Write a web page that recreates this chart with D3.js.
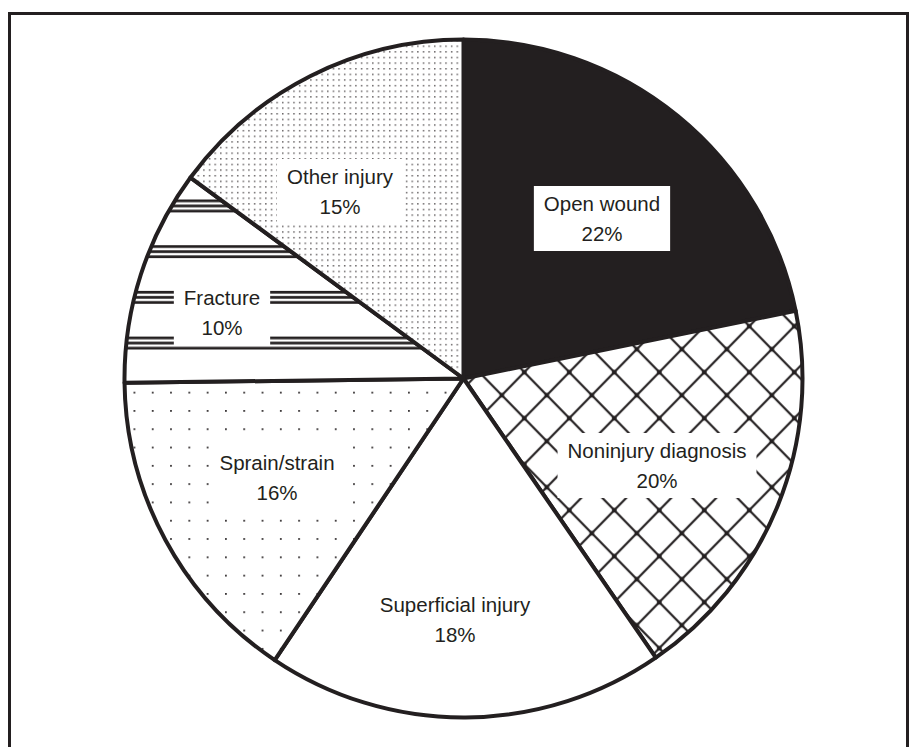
<!DOCTYPE html>
<html>
<head>
<meta charset="utf-8">
<script src="https://cdn.jsdelivr.net/npm/d3@7"></script>
<style>
  html, body { margin: 0; padding: 0; background: #fff; }
  svg { display: block; }
  text { font-family: "Liberation Sans", Arial, Helvetica, sans-serif; fill: #231f20; }
</style>
</head>
<body>
<svg id="chart" width="917" height="747"></svg>
<script>
// ---- data ----
const categories = ["Open wound", "Noninjury diagnosis", "Superficial injury", "Sprain/strain", "Fracture", "Other injury"];
const shares     = [21.8, 18.6, 19.0, 15.4, 10.3, 14.9];   // drawn slice sizes (%)
const labels     = ["22%", "20%", "18%", "16%", "10%", "15%"]; // printed percentages
const fills      = ["solid", "crosshatch", "none", "sparseDots", "lines", "denseDots"];
const labelPos   = [ // label centres (x, y of first baseline)
  [602, 211], [657, 458], [455, 612], [277, 470], [222, 305], [340, 184]
];

const ink = "#231f20";
const svg = d3.select("#chart");
const defs = svg.append("defs");

// crosshatch (diamonds)
{
  const w = 45, h = 46;
  const p = defs.append("pattern").attr("id", "crosshatch").attr("patternUnits", "userSpaceOnUse")
    .attr("x", 38.3).attr("y", 16.7).attr("width", w).attr("height", h);
  p.append("rect").attr("width", w).attr("height", h).attr("fill", "#fff");
  p.append("path").attr("d", `M0,0L${w},${h}M${w},0L0,${h}`).attr("stroke", ink).attr("stroke-width", 2.2).attr("fill", "none");
  [[0,0],[w,0],[0,h],[w,h],[w/2,h/2]].forEach(([x,y]) =>
    p.append("rect").attr("x", x-2.3).attr("y", y-2.3).attr("width", 4.6).attr("height", 4.6).attr("fill", ink));
}
// dense dots
{
  const s = 5.63;
  const p = defs.append("pattern").attr("id", "denseDots").attr("patternUnits", "userSpaceOnUse")
    .attr("x", 404 % s).attr("y", 275 % s).attr("width", s).attr("height", s);
  p.append("rect").attr("width", s).attr("height", s).attr("fill", "#fff");
  p.append("rect").attr("x", 0).attr("y", 0).attr("width", 1.5).attr("height", 1.5).attr("fill", "#6a6667");
}
// sparse dots
{
  const s = 18.3;
  const p = defs.append("pattern").attr("id", "sparseDots").attr("patternUnits", "userSpaceOnUse")
    .attr("x", 127.5 % s).attr("y", 379.2 % s).attr("width", s).attr("height", s);
  p.append("rect").attr("width", s).attr("height", s).attr("fill", "#fff");
  p.append("rect").attr("x", 0).attr("y", 0).attr("width", 1.8).attr("height", 1.8).attr("fill", "#3a3637");
}
// horizontal line groups
{
  const h = 45.7, w = 10;
  const p = defs.append("pattern").attr("id", "lines").attr("patternUnits", "userSpaceOnUse")
    .attr("x", 0).attr("y", 232.3 % h).attr("width", w).attr("height", h);
  p.append("rect").attr("width", w).attr("height", h).attr("fill", "#fff");
  [0, 5.1, 10.2].forEach(y => p.append("rect").attr("x", 0).attr("y", y).attr("width", w).attr("height", 2.7).attr("fill", ink));
}

// frame
svg.append("rect").attr("x", 9.5).attr("y", 13.5).attr("width", 898).attr("height", 800)
  .attr("fill", "none").attr("stroke", ink).attr("stroke-width", 3);

const cx = 463.5, cy = 378.5, r = 339;
const g = svg.append("g").attr("transform", `translate(${cx},${cy})`);

const pie = d3.pie().sort(null).value(d => d.v);
const arcs = pie(categories.map((c, i) => ({ c, v: shares[i], i })));
const arc = d3.arc().innerRadius(0).outerRadius(r);

g.selectAll("path.slice").data(arcs).join("path")
  .attr("class", "slice")
  .attr("d", arc)
  .attr("fill", d => {
    const f = fills[d.data.i];
    if (f === "solid") return ink;
    if (f === "none") return "#fff";
    return `url(#${f})`;
  })
  .attr("stroke", ink).attr("stroke-width", 4).attr("stroke-linejoin", "round");

// labels with white boxes
const lg = svg.append("g");
arcs.forEach(d => {
  const i = d.data.i;
  const [x, y] = labelPos[i];
  const grp = lg.append("g");
  const box = grp.append("rect").attr("fill", "#fff");
  const t = grp.append("text").attr("text-anchor", "middle").attr("font-size", 20.5);
  t.append("tspan").attr("x", x).attr("y", y).text(categories[i]);
  t.append("tspan").attr("x", x).attr("y", y + 30).text(labels[i]);
  const bb = t.node().getBBox();
  const padX = 10, padY = 6;
  box.attr("x", bb.x - padX).attr("y", bb.y - padY)
     .attr("width", bb.width + 2 * padX).attr("height", bb.height + 2 * padY);
});
</script>
</body>
</html>
